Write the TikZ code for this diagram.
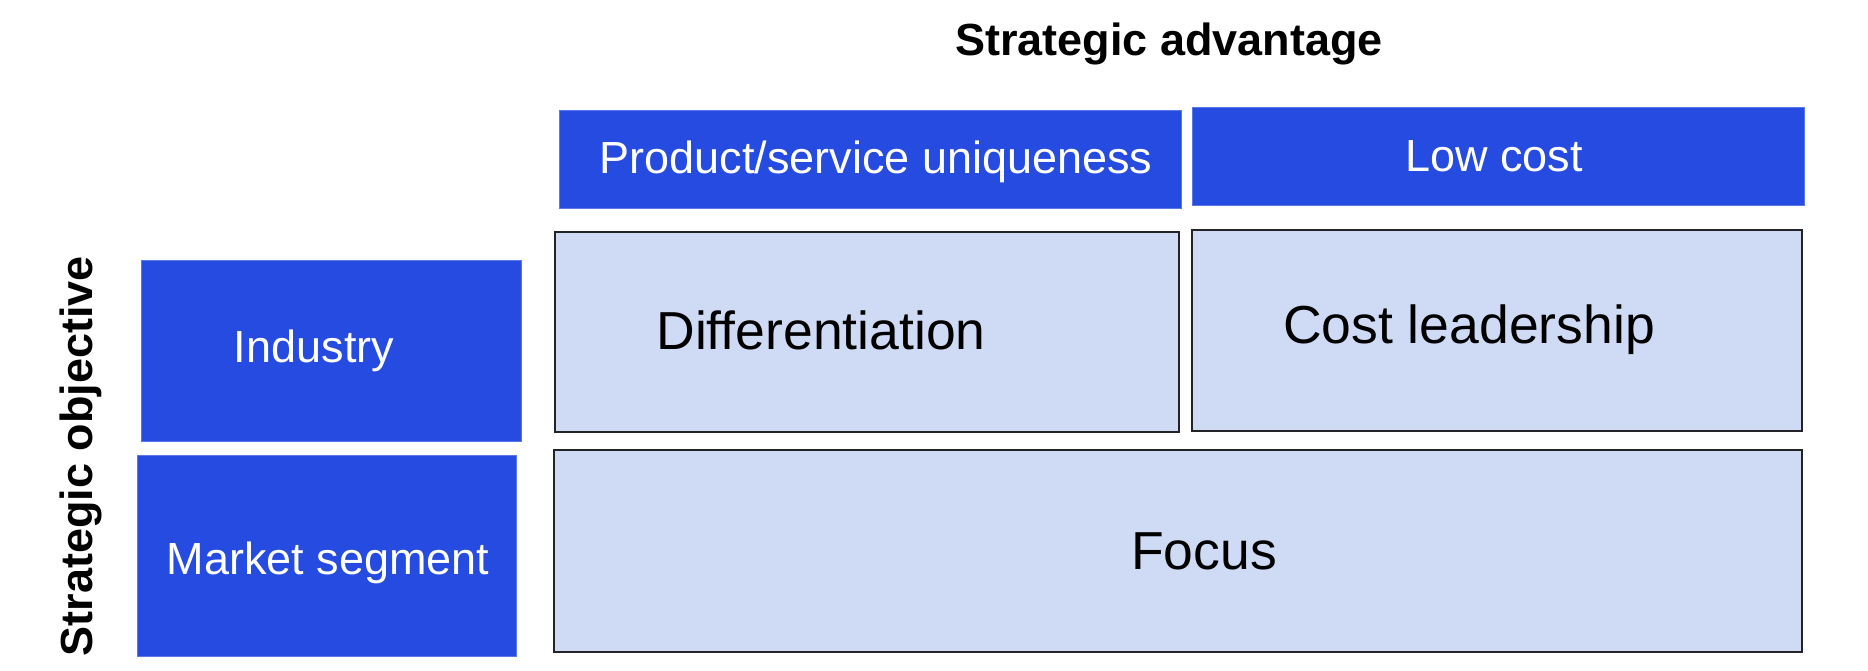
\documentclass[tikz,border=0pt]{standalone}
\usepackage{fontspec}
\setmainfont{Liberation Sans}
\usetikzlibrary{fit}
\definecolor{hdrblue}{RGB}{37,75,224}
\definecolor{hdredge}{RGB}{90,120,235}
\definecolor{cellfill}{RGB}{207,218,245}
\definecolor{cellline}{RGB}{35,35,40}
\tikzset{
  hdr/.style={fill=hdrblue, draw=hdredge, line width=0.4pt, inner sep=0pt, outer sep=0pt},
  cell/.style={fill=cellfill, draw=cellline, line width=1pt, inner sep=0pt, outer sep=0pt},
  hdrtxt/.style={text=white, font=\fontsize{22.5}{27}\selectfont, anchor=base, inner sep=0pt},
  celltxt/.style={text=black, font=\fontsize{26.75}{32}\selectfont, anchor=base, inner sep=0pt},
  ttl/.style={text=black, font=\bfseries\fontsize{22.5}{27}\selectfont, anchor=base, inner sep=0pt}
}
\begin{document}
\begin{tikzpicture}[x=0.5pt,y=-0.5pt]
\useasboundingbox[fill=white] (0,0) rectangle (1868,670);
% titles
\node[ttl] (tadv) at (1169,55) {Strategic advantage};
\node[ttl, rotate=90] (tobj) at (92,456) {Strategic objective};
% header boxes
\node[hdr, fit={(559,110)(1181,208)}] (prod) {};
\node[hdr, fit={(1192,107)(1804,205)}] (low) {};
\node[hdr, fit={(141,260)(521,441)}] (ind) {};
\node[hdr, fit={(137,455)(516,656)}] (mkt) {};
% cells
\node[cell, fit={(555,232)(1179,432)}] (diff) {};
\node[cell, fit={(1192,230)(1802,431)}] (cost) {};
\node[cell, fit={(554,450)(1802,652)}] (focus) {};
% texts
\node[hdrtxt] (prodtxt) at (876,173) {Product/service uniqueness};
\node[hdrtxt] (lowtxt) at (1494,171) {Low cost};
\node[hdrtxt] (indtxt) at (314,362) {Industry};
\node[hdrtxt] (mkttxt) at (328,574) {Market segment};
\node[celltxt] (difftxt) at (821,349) {Differentiation};
\node[celltxt] (costtxt) at (1469,343) {Cost leadership};
\node[celltxt] (focustxt) at (1204,569) {Focus};
\end{tikzpicture}
\end{document}
